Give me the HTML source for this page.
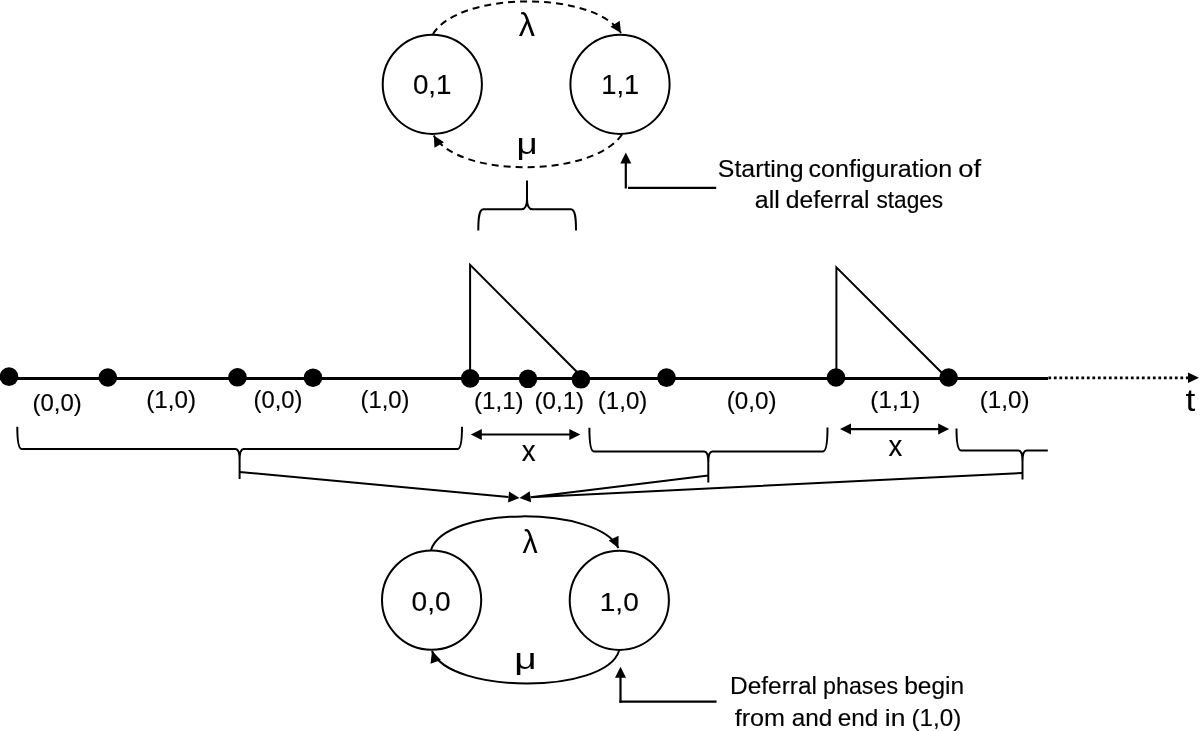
<!DOCTYPE html>
<html><head><meta charset="utf-8"><style>
html,body{margin:0;padding:0;background:#fff;width:1200px;height:731px;overflow:hidden}
svg{display:block}
text{font-family:"Liberation Sans",sans-serif;font-size:100px;fill:#000}
.tx{will-change:transform}
.tx text{stroke:#000;stroke-width:0.15px;vector-effect:non-scaling-stroke}
.tx text.ns{stroke:none}
</style></head><body>
<svg width="1200" height="731" viewBox="0 0 1200 731">
<g fill="#000">
<circle cx="432.3" cy="84.3" r="49.6" fill="none" stroke="#000" stroke-width="2"/>
<circle cx="620" cy="84.3" r="49.6" fill="none" stroke="#000" stroke-width="2"/>
<path d="M433,34 C460,-9.3 594,-9.3 621,33" fill="none" stroke="#000" stroke-width="2" stroke-dasharray="7 5"/>
<polygon points="621,33 610.45,26.69 619.72,20.77"/>
<path d="M622,134.5 C592,178 458,178 433.8,135.5" fill="none" stroke="#000" stroke-width="2" stroke-dasharray="7 5"/>
<polygon points="433.8,135.5 444.02,142.34 434.46,147.78"/>
<path d="M478.3,230.5 C478.3,218 479,209.3 483.5,209.3 L521.5,209.3 C525.5,209.3 527,205 527,199 L527,180.5 M576,230.5 C576,218 575.3,209.3 570.8,209.3 L532.5,209.3 C528.5,209.3 527,205 527,199" fill="none" stroke="#000" stroke-width="2"/>
<path d="M625.8,188.5 L625.8,162" fill="none" stroke="#000" stroke-width="2.2"/>
<polygon points="625.8,152.5 631.3,163.5 620.3,163.5"/>
<path d="M628,187.8 L716.2,187.8" fill="none" stroke="#000" stroke-width="2.2"/>
<path d="M0,378.4 L1048,378.4" stroke="#000" stroke-width="3"/>
<path d="M1048.4,377.8 L1188,377.8" stroke="#000" stroke-width="2.75" stroke-dasharray="2.75 2.75"/>
<polygon points="1199,377.8 1188,383.05 1188,372.55"/>
<circle cx="9" cy="376.6" r="9.3"/>
<circle cx="107.8" cy="377.5" r="9.3"/>
<circle cx="237.5" cy="377.3" r="9.3"/>
<circle cx="313" cy="377.7" r="9.3"/>
<circle cx="470.2" cy="378.4" r="9.3"/>
<circle cx="528" cy="378.8" r="9.3"/>
<circle cx="580.9" cy="379.3" r="9.3"/>
<circle cx="666.5" cy="377.6" r="9.3"/>
<circle cx="836" cy="377.5" r="9.3"/>
<circle cx="948.6" cy="377.5" r="9.3"/>
<path d="M470.1,378 L470.1,264.8 L583,378" fill="none" stroke="#000" stroke-width="2"/>
<path d="M836.4,378 L836.4,267.4 L947,378" fill="none" stroke="#000" stroke-width="2"/>
<path d="M480.8,434.5 L570.3,434.5" stroke="#000" stroke-width="2.2"/>
<polygon points="470.8,434.5 481.8,429 481.8,440"/>
<polygon points="580.3,434.5 569.3,440 569.3,429"/>
<path d="M850,429.1 L939.2,429.1" stroke="#000" stroke-width="2.2"/>
<polygon points="840,429.1 851,423.6 851,434.6"/>
<polygon points="949.2,429.1 938.2,434.6 938.2,423.6"/>
<path d="M17.3,426.7 C17.3,439 18.3,449 21.8,449 L235.6,449 C238.29999999999998,449 239.6,453 239.6,460 L239.6,479 M462,426.7 C462,439 461,449 457.5,449 L243.6,449 C240.9,449 239.6,453 239.6,460" fill="none" stroke="#000" stroke-width="2"/>
<path d="M589.4,427.7 C589.4,441.4 590.4,451.4 593.9,451.4 L704.3,451.4 C707.0,451.4 708.3,455.4 708.3,462.4 L708.3,482.4 M827.5,427.5 C827.5,441.4 826.5,451.4 823.0,451.4 L712.3,451.4 C709.5999999999999,451.4 708.3,455.4 708.3,462.4" fill="none" stroke="#000" stroke-width="2"/>
<path d="M956.5,428.6 C956.5,440.5 957.5,450.5 961.0,450.5 L1018.5,450.5 C1021.2,450.5 1022.5,454.5 1022.5,461.5 L1022.5,479.6 M1047.8,450.5 L1026.5,450.5 C1023.8,450.5 1022.5,454.5 1022.5,461.5" fill="none" stroke="#000" stroke-width="2"/>
<path d="M239.6,472 L508.5,497" stroke="#000" stroke-width="2"/>
<polygon points="519.5,498 508.04,502.46 509.06,491.51"/>
<path d="M708.3,475.6 L530.5,497.2 M1022.5,473 L530.5,497.2" stroke="#000" stroke-width="2"/>
<polygon points="519.5,498 529.78,491.24 531.07,502.17"/>
<circle cx="431.6" cy="600.1" r="49.6" fill="none" stroke="#000" stroke-width="2"/>
<circle cx="619.3" cy="600.3" r="49.6" fill="none" stroke="#000" stroke-width="2"/>
<path d="M431,550 C445,505.5 598,505.5 618.4,548" fill="none" stroke="#000" stroke-width="2"/>
<polygon points="618.4,548 608.68,540.46 618.6,535.7"/>
<path d="M619,651 C605,694.3 450,694.3 432,651" fill="none" stroke="#000" stroke-width="2"/>
<polygon points="432,651 440.96,660.07 430.57,663.67"/>
<path d="M620.5,702.8 L620.5,676" fill="none" stroke="#000" stroke-width="2.2"/>
<polygon points="620.5,666.8 626,677.8 615,677.8"/>
<path d="M619.4,701.7 L716.5,701.7" fill="none" stroke="#000" stroke-width="2.2"/>
</g>
<g class="tx">
<text transform="matrix(0.27846 0 0 0.28116 412.89 94.00)">0,1</text>
<text transform="matrix(0.27302 0 0 0.27681 601.32 93.70)">1,1</text>
<text class="ns" transform="matrix(0.32500 0 0 0.32778 518.67 35.73)">λ</text>
<text class="ns" transform="matrix(0.36744 0 0 0.30000 516.43 153.60)">μ</text>
<text transform="matrix(0.24865 0 0 0.24000 717.86 176.70)">Starting</text>
<text transform="matrix(0.25107 0 0 0.24000 808.50 176.70)">configuration</text>
<text transform="matrix(0.27342 0 0 0.24000 958.21 176.70)">of</text>
<text transform="matrix(0.24944 0 0 0.24000 754.80 208.30)">all</text>
<text transform="matrix(0.24695 0 0 0.24000 785.76 208.30)">deferral</text>
<text transform="matrix(0.22674 0 0 0.24000 876.42 208.30)">stages</text>
<text transform="matrix(0.23964 0 0 0.24468 32.56 410.61)">(0,0)</text>
<text transform="matrix(0.24223 0 0 0.24202 146.30 407.67)">(1,0)</text>
<text transform="matrix(0.23834 0 0 0.24202 253.57 407.67)">(0,0)</text>
<text transform="matrix(0.23834 0 0 0.24202 360.57 407.67)">(1,0)</text>
<text transform="matrix(0.24093 0 0 0.23404 474.05 408.59)">(1,1)</text>
<text transform="matrix(0.24093 0 0 0.23404 534.55 408.59)">(0,1)</text>
<text transform="matrix(0.24093 0 0 0.24202 597.80 408.67)">(1,0)</text>
<text transform="matrix(0.24223 0 0 0.24202 726.80 408.67)">(0,0)</text>
<text transform="matrix(0.24352 0 0 0.23298 870.34 408.41)">(1,1)</text>
<text transform="matrix(0.24197 0 0 0.23298 979.75 408.41)">(1,0)</text>
<text class="ns" transform="matrix(0.35323 0 0 0.31538 1185.53 411.38)">t</text>
<text transform="matrix(0.27708 0 0 0.29623 521.72 460.70)">x</text>
<text transform="matrix(0.27500 0 0 0.30000 888.43 455.50)">x</text>
<text transform="matrix(0.28092 0 0 0.26957 411.58 610.60)">0,0</text>
<text transform="matrix(0.28031 0 0 0.26377 599.76 610.90)">1,0</text>
<text class="ns" transform="matrix(0.30417 0 0 0.33333 522.40 553.33)">λ</text>
<text class="ns" transform="matrix(0.38953 0 0 0.29514 514.27 669.39)">μ</text>
<text transform="matrix(0.24457 0 0 0.24000 730.04 694.00)">Deferral</text>
<text transform="matrix(0.23221 0 0 0.24000 823.12 694.00)">phases</text>
<text transform="matrix(0.24502 0 0 0.24000 904.18 694.00)">begin</text>
<text transform="matrix(0.25208 0 0 0.23600 734.65 725.80)">from</text>
<text transform="matrix(0.24295 0 0 0.23600 791.73 725.80)">and</text>
<text transform="matrix(0.24359 0 0 0.23600 837.78 725.80)">end</text>
<text transform="matrix(0.26406 0 0 0.23600 884.85 725.80)">in</text>
<text transform="matrix(0.24197 0 0 0.23600 911.45 725.80)">(1,0)</text>
</g>
</svg>
</body></html>
